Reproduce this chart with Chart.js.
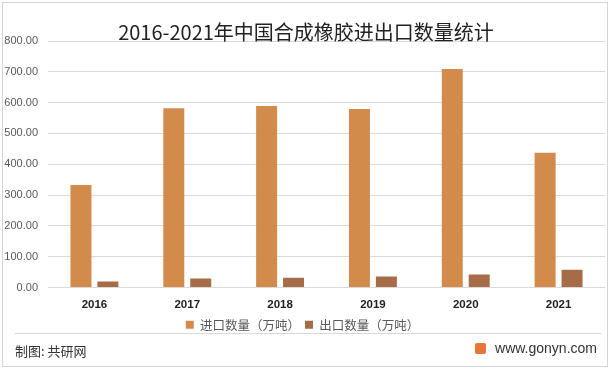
<!DOCTYPE html>
<html>
<head>
<meta charset="utf-8">
<script src="https://cdn.jsdelivr.net/npm/chart.js@4.4.0/dist/chart.umd.min.js"></script>
<style>
  html, body { margin: 0; padding: 0; background: #fff; }
  #wrap { position: relative; width: 612px; height: 369px; overflow: hidden; }
  #frame { position: absolute; left: 2px; top: 2px; width: 604px; height: 363px; border: 1px solid #d4d4d4; }
  #title { position: absolute; left: 0; top: 19px; width: 612px; text-align: center;
           font: 20px "Noto Sans CJK SC", sans-serif; color: #222; line-height: 26px; }
  #sep { position: absolute; left: 15px; top: 333px; width: 586px; height: 1px; background: #d9d9d9; }
  #src { position: absolute; left: 15px; top: 341px; font: 13px "Noto Sans CJK SC", sans-serif; color: #333; }
  #site { position: absolute; right: 15px; top: 340px; font: 14px "Liberation Sans", Arial, sans-serif; color: #333; }
  #logo { display: inline-block; width: 11px; height: 11px; background: #e8743b; border-radius: 2px;
          margin-right: 9px; vertical-align: -1px; }
  canvas { position: absolute; left: 0; top: 0; }
</style>
</head>
<body>
<div id="wrap">
  <canvas id="chart" width="612" height="341"></canvas>
  <div id="title">2016-2021年中国合成橡胶进出口数量统计</div>
  <div id="frame"></div>
  <div id="sep"></div>
  <div id="src">制图: 共研网</div>
  <div id="site"><span id="logo"></span>www.gonyn.com</div>
</div>
<script>
// data
const years = ['2016', '2017', '2018', '2019', '2020', '2021'];
const importQty = [333, 582, 589, 579, 709, 437];   // 进口数量（万吨）
const exportQty = [19.5, 29, 32, 36, 42, 58];      // 出口数量（万吨）
const seriesNames = ['进口数量（万吨）', '出口数量（万吨）'];

const importColor = '#d38b4c';
const exportColor = '#a66b47';

new Chart(document.getElementById('chart'), {
    type: 'bar',
    data: {
        labels: years,
        datasets: [
            { label: seriesNames[0], data: importQty, backgroundColor: importColor },
            { label: seriesNames[1], data: exportQty, backgroundColor: exportColor }
        ]
    },
    options: {
        responsive: false,
        animation: false,
        layout: { padding: { top: 41, right: 7, left: 0, bottom: 0 } },
        datasets: { bar: { categoryPercentage: 0.58, barPercentage: 0.78 } },
        scales: {
            x: {
                grid: { display: false, drawTicks: false },
                border: { display: false },
                ticks: { color: '#222', padding: 10, font: { family: 'Liberation Sans', size: 11.5, weight: 'bold' } },
                afterFit: s => { s.height = 26; }
            },
            y: {
                min: 0, max: 800,
                ticks: { stepSize: 100, color: '#595959', padding: 10,
                         font: { family: 'Liberation Sans', size: 11 },
                         callback: v => v.toFixed(2) },
                grid: { color: '#d9d9d9', drawTicks: false },
                border: { display: false },
                afterFit: s => { s.width = 48; }
            }
        },
        plugins: {
            legend: {
                position: 'bottom',
                labels: { boxWidth: 8, boxHeight: 8, padding: 5, color: '#595959',
                          font: { family: 'Noto Sans CJK SC', size: 12.5 } }
            },
            tooltip: { enabled: false }
        }
    }
});
</script>
</body>
</html>
